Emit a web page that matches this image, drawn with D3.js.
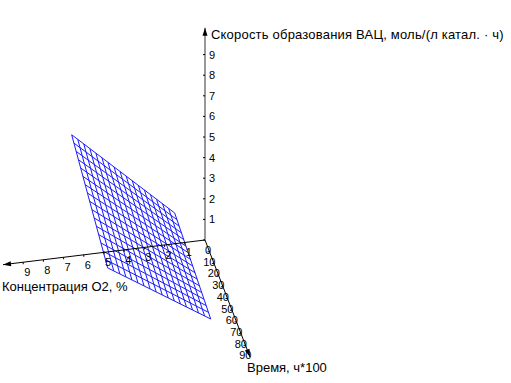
<!DOCTYPE html>
<html>
<head>
<meta charset="utf-8">
<script src="https://cdn.jsdelivr.net/npm/d3@7"></script>
<style>
  body { margin: 0; background: #fff; }
  text { font-family: "Liberation Sans", Arial, sans-serif; fill: #000; }
</style>
</head>
<body>
<svg id="chart" width="511" height="383"></svg>
<script>
// grid of the surface (O2 concentration, % and time, h*100)
const o2Grid = [1.5, 1.8, 2.1, 2.4, 2.7, 3.0, 3.3, 3.6, 3.9, 4.2, 4.5, 4.8, 5.1, 5.4, 5.7, 6.0, 6.3, 6.6];
const timeGrid = [0, 5, 10, 15, 20, 25, 30, 35, 40, 45, 50, 55, 60, 65, 70, 75, 80];

// rate along the edges of the surface
const rateAtTimeStart = [1.49, 1.75, 2.01, 2.27, 2.53, 2.79, 3.05, 3.31, 3.57, 3.82, 4.08, 4.34, 4.60, 4.86, 5.12, 5.38, 5.64, 5.90];
const rateAtTimeEnd = [0.89, 1.07, 1.25, 1.44, 1.62, 1.80, 1.98, 2.16, 2.34, 2.53, 2.71, 2.89, 3.07, 3.25, 3.43, 3.62, 3.80, 3.98];
const rateAtLowO2 = [1.49, 1.45, 1.42, 1.38, 1.34, 1.30, 1.27, 1.23, 1.19, 1.15, 1.12, 1.08, 1.04, 1.00, 0.97, 0.93, 0.89];
const rateAtHighO2 = [5.90, 5.78, 5.66, 5.54, 5.42, 5.30, 5.18, 5.06, 4.94, 4.82, 4.70, 4.58, 4.46, 4.34, 4.22, 4.10, 3.98];

// tick labels
const o2Ticks = [1, 2, 3, 4, 5, 6, 7, 8, 9];
const timeTicks = [0, 10, 20, 30, 40, 50, 60, 70, 80, 90];
const rateTicks = [1, 2, 3, 4, 5, 6, 7, 8, 9];

const svg = d3.select('#chart');
const origin = [205, 240];

// each data axis moves the screen point along its own direction
const o2X = d3.scaleLinear().domain([0, 10]).range([0, -202]);
const o2Y = d3.scaleLinear().domain([0, 10]).range([0, 24.7]);
const timeX = d3.scaleLinear().domain([0, 100]).range([0, 45]);
const timeY = d3.scaleLinear().domain([0, 100]).range([0, 117]);
const rateY = d3.scaleLinear().domain([0, 10]).range([0, -206]);

function project(c, t, r) {
    return [origin[0] + o2X(c) + timeX(t),
            origin[1] + o2Y(c) + timeY(t) + rateY(r)];
}

const line = d3.line();

// mesh
const mesh = svg.append('g')
    .attr('fill', 'none')
    .attr('stroke', '#1a1aff')
    .attr('stroke-width', 1);

o2Grid.forEach((c, i) => {
    mesh.append('path')
        .attr('d', line([project(c, timeGrid[0], rateAtTimeStart[i]),
                         project(c, timeGrid[timeGrid.length - 1], rateAtTimeEnd[i])]));
});

timeGrid.forEach((t, j) => {
    mesh.append('path')
        .attr('d', line([project(o2Grid[0], t, rateAtLowO2[j]),
                         project(o2Grid[o2Grid.length - 1], t, rateAtHighO2[j])]));
});

// axes
const axes = svg.append('g').attr('stroke', '#000').attr('stroke-width', 1);

function arrow(from, to) {
    const dx = to[0] - from[0], dy = to[1] - from[1];
    const len = Math.hypot(dx, dy);
    const ux = dx / len, uy = dy / len;
    const b = [to[0] - ux * 8, to[1] - uy * 8];
    svg.append('path')
        .attr('d', `M${to[0]},${to[1]}L${b[0] - uy * 2.5},${b[1] + ux * 2.5}L${b[0] + uy * 2.5},${b[1] - ux * 2.5}Z`)
        .attr('fill', '#000');
}

// rate (vertical) axis
const rateEnd = project(0, 0, 10.3);
axes.append('line')
    .attr('x1', origin[0]).attr('y1', origin[1])
    .attr('x2', rateEnd[0]).attr('y2', rateEnd[1])
    .attr('stroke', '#333');
arrow(origin, rateEnd);

rateTicks.forEach(r => {
    const p = project(0, 0, r);
    axes.append('line')
        .attr('x1', p[0] - 2).attr('y1', p[1])
        .attr('x2', p[0]).attr('y2', p[1]);
    svg.append('text')
        .attr('x', p[0] + 4).attr('y', p[1] + 4)
        .style('font-size', '11px')
        .text(r);
});

svg.append('text')
    .attr('x', 211).attr('y', 39)
    .style('font-size', '13px')
    .style('letter-spacing', '0.2px')
    .text('Скорость образования ВАЦ, моль/(л катал. · ч)');

// O2 axis
const o2End = project(10, 0, 0);
axes.append('line')
    .attr('x1', origin[0]).attr('y1', origin[1])
    .attr('x2', o2End[0]).attr('y2', o2End[1]);
arrow(origin, o2End);

o2Ticks.forEach(c => {
    const p = project(c, 0, 0);
    axes.append('line')
        .attr('x1', p[0]).attr('y1', p[1])
        .attr('x2', p[0]).attr('y2', p[1] + 2);
    svg.append('text')
        .attr('x', p[0] + 4).attr('y', p[1] + 14)
        .attr('text-anchor', 'middle')
        .style('font-size', '11px')
        .text(c);
});

svg.append('text')
    .attr('x', 2).attr('y', 291)
    .style('font-size', '13px')
    .text('Концентрация О2, %');

// time axis
const timeEnd = project(0, 100, 0);
axes.append('line')
    .attr('x1', origin[0]).attr('y1', origin[1])
    .attr('x2', timeEnd[0]).attr('y2', timeEnd[1]);
arrow(origin, timeEnd);

timeTicks.forEach(t => {
    const p = project(0, t, 0);
    axes.append('line')
        .attr('x1', p[0]).attr('y1', p[1])
        .attr('x2', p[0] - 2).attr('y2', p[1]);
    svg.append('text')
        .attr('x', p[0] + 6).attr('y', p[1] + 14)
        .attr('text-anchor', 'end')
        .style('font-size', '11px')
        .text(t);
});

svg.append('text')
    .attr('x', 247).attr('y', 372)
    .style('font-size', '13px')
    .text('Время, ч*100');
</script>
</body>
</html>
